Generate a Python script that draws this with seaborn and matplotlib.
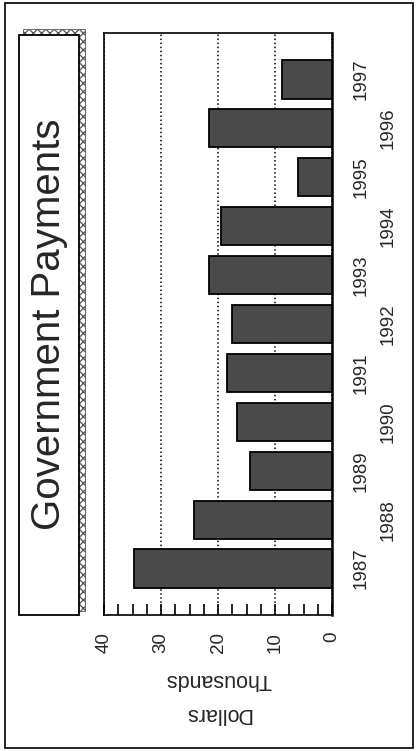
import matplotlib
matplotlib.use("Agg")
import matplotlib.pyplot as plt
import matplotlib.ticker as ticker
from matplotlib.patches import Rectangle
import pandas as pd
import seaborn as sns

# data (thousand dollars)
years = ["1987", "1988", "1989", "1990", "1991", "1992",
         "1993", "1994", "1995", "1996", "1997"]
payments = [34.8, 24.2, 14.3, 16.6, 18.4, 17.6, 21.6, 19.5, 6.0, 21.6, 8.7]
title = "Government Payments"

df = pd.DataFrame({"year": years, "payment": payments})

sns.set_style("white")
plt.rcParams["font.family"] = ["Liberation Sans", "DejaVu Sans"]
plt.rcParams["hatch.linewidth"] = 0.9

W, H = 416, 751
fig = plt.figure(figsize=(W / 100, H / 100), dpi=100)
ax = fig.add_axes([104 / W, 1 - 615 / H, (332 - 104) / W, (615 - 33) / H])

# page is rotated: bars run right-to-left, 1987 at the bottom
sns.barplot(data=df, x="payment", y="year", order=years[::-1], orient="h",
            color="#4a4a4a", saturation=1, edgecolor="black", linewidth=1.3,
            width=0.78, ax=ax, zorder=3)

ax.set_xlim(40, 0)
ax.set_ylim(10.95, -0.95)
ax.set_xlabel("")
ax.set_ylabel("")

ax.xaxis.set_major_locator(ticker.MultipleLocator(10))
ax.xaxis.set_minor_locator(ticker.MultipleLocator(2.5))
ax.tick_params(axis="x", which="both", direction="in", length=8, width=1.2,
               color="black", bottom=True, labelsize=13.5, labelrotation=90, pad=12)
ax.grid(axis="x", which="major", linestyle=":", color="black", linewidth=1.1, zorder=0)
ax.grid(axis="y", visible=False)

ax.yaxis.tick_right()
ax.tick_params(axis="y", length=0, labelsize=13.5, labelrotation=90)
for tk, lab in zip(ax.yaxis.get_major_ticks(), ax.get_yticklabels()):
    lab.set_va("center")
    tk.set_pad(15 if int(lab.get_text()) % 2 else 34)

for side in ["top", "left", "bottom", "right"]:
    ax.spines[side].set_visible(True)
    ax.spines[side].set_color("black")
    ax.spines[side].set_linewidth(1.2)
ax.spines["right"].set_linewidth(1.8)

# upside-down axis titles
fig.text(218 / W, 1 - 680 / H, "Thousands", rotation=180, ha="center", va="center", fontsize=15.5)
fig.text(218 / W, 1 - 713 / H, "Dollars", rotation=180, ha="center", va="center", fontsize=15.5)

# title box with hatched shadow
fig.patches.append(Rectangle((23 / W, 1 - 611 / H), 62 / W, 582 / H, transform=fig.transFigure,
                             facecolor="white", edgecolor="#555555", hatch="xxxx",
                             linewidth=0.6, zorder=1))
fig.patches.append(Rectangle((19 / W, 1 - 615 / H), 60 / W, 580 / H, transform=fig.transFigure,
                             facecolor="white", edgecolor="black", linewidth=1.3, zorder=2))
fig.text(49 / W, 1 - 324 / H, title, rotation=90, ha="center", va="center",
         fontsize=29, zorder=3)

# outer frame
fig.patches.append(Rectangle((5 / W, 1 - 748 / H), 408 / W, 745 / H, transform=fig.transFigure,
                             facecolor="none", edgecolor="black", linewidth=1.2))

fig.savefig("out.png", dpi=100)
